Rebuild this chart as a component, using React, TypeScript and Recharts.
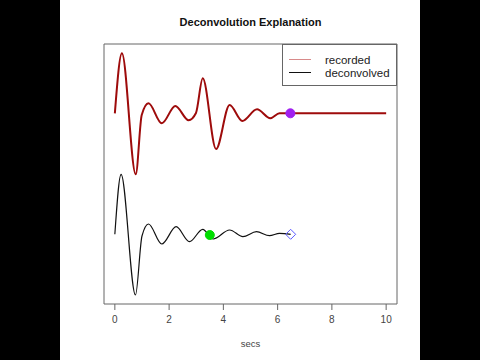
import * as React from "react";
import { Line, LineChart, ReferenceArea, ReferenceDot, XAxis, YAxis } from "recharts";

// recorded trace (offset upward), seconds vs amplitude
const recordedT = [0, 0.26, 0.77, 0.99, 1.24, 1.73, 2.23, 2.72, 2.99, 3.24, 3.73, 4.23, 4.7, 5.24, 5.73, 6.07, 6.47, 8, 10];
const recordedV = [19.07, 25.07, 12.97, 18.9, 20.07, 18.07, 19.8, 18.37, 19.1, 22.57, 15.5, 19.9, 18.3, 19.47, 18.57, 19.07, 19.07, 19.07, 19.07];

// deconvolved trace (lower)
const deconvT = [0, 0.23, 0.76, 1.0, 1.24, 1.73, 2.26, 2.75, 3.24, 3.62, 4.23, 4.72, 5.22, 5.7, 6.07, 6.48];
const deconvV = [6.97, 12.97, 0.9, 6.8, 8.0, 6.0, 7.73, 6.23, 7.47, 6.5, 7.4, 6.73, 7.23, 6.83, 7.07, 6.97];

const xTicks = [0, 2, 4, 6, 8, 10];

// markers: [t, value]
const purpleMark = [6.47, 19.07];
const greenMark = [3.5, 6.9];
const diamondMark = [6.48, 6.97];

const recordedData = recordedT.map((t, i) => ({ t, v: recordedV[i] }));
const deconvData = deconvT.map((t, i) => ({ t, v: deconvV[i] }));

const FONT = "'Liberation Sans', Arial, Helvetica, sans-serif";
const RED = "#9e0b0b";

function LegendBox() {
  const row = (color: string, w: number, label: string) => (
    <div style={{ display: "flex", alignItems: "center", height: 13 }}>
      <div style={{ width: 22, height: w, background: color, marginLeft: 6, marginRight: 14 }} />
      <span>{label}</span>
    </div>
  );
  return (
    <div
      style={{
        position: "absolute",
        left: 282,
        top: 44,
        boxSizing: "border-box",
        width: 115,
        height: 42,
        border: "1px solid #666",
        background: "#fff",
        fontFamily: FONT,
        fontSize: 11.5,
        color: "#222",
        paddingTop: 8,
      }}
    >
      {row("#d88a8a", 1, "recorded")}
      {row("#111", 1, "deconvolved")}
    </div>
  );
}

function Diamond(props: { cx?: number; cy?: number }) {
  const { cx = 0, cy = 0 } = props;
  const r = 5;
  return (
    <path
      d={`M${cx},${cy - r}L${cx + r},${cy}L${cx},${cy + r}L${cx - r},${cy}Z`}
      fill="none"
      stroke="#5a5aff"
      strokeWidth={1}
    />
  );
}

export default function App() {
  return (
    <div style={{ position: "fixed", left: 0, top: 0, width: 480, height: 360, background: "#000" }}>
      <div style={{ position: "absolute", left: 60, top: 0, width: 360, height: 360, background: "#fff" }} />
      <div
        style={{
          position: "absolute",
          left: 0,
          top: 16,
          width: 501,
          textAlign: "center",
          fontFamily: FONT,
          fontWeight: "bold",
          fontSize: 11,
          color: "#111",
        }}
      >
        Deconvolution Explanation
      </div>
      <div
        style={{
          position: "absolute",
          left: 0,
          top: 338,
          width: 501,
          textAlign: "center",
          fontFamily: FONT,
          fontSize: 9.5,
          color: "#444",
        }}
      >
        secs
      </div>
      <div style={{ position: "absolute", left: 0, top: 0 }}>
        <LineChart width={480} height={360} margin={{ top: 44, right: 83, bottom: 26, left: 104 }}>
          <XAxis
            dataKey="t"
            type="number"
            domain={[-0.4, 10.4]}
            ticks={xTicks}
            allowDuplicatedCategory={false}
            axisLine={false}
            tickLine={{ stroke: "#666" }}
            tickSize={6}
            tickMargin={6}
            height={30}
            tick={{ fontSize: 10, fill: "#444", fontFamily: FONT }}
          />
          <YAxis type="number" domain={[0, 26]} hide />
          <ReferenceArea x1={-0.4} x2={10.4} y1={0} y2={26} fill="none" stroke="#666" strokeWidth={1} ifOverflow="visible" />
          <Line
            data={recordedData}
            dataKey="v"
            type="monotone"
            stroke={RED}
            strokeWidth={2}
            dot={false}
            isAnimationActive={false}
          />
          <Line
            data={deconvData}
            dataKey="v"
            type="monotone"
            stroke="#111"
            strokeWidth={1.2}
            dot={false}
            isAnimationActive={false}
          />
          <ReferenceDot x={purpleMark[0]} y={purpleMark[1]} r={4.5} fill="#a020f0" stroke="#a020f0" />
          <ReferenceDot x={greenMark[0]} y={greenMark[1]} r={4.5} fill="#00dd00" stroke="#00dd00" />
          <ReferenceDot x={diamondMark[0]} y={diamondMark[1]} shape={<Diamond />} />
        </LineChart>
      </div>
      <LegendBox />
    </div>
  );
}
